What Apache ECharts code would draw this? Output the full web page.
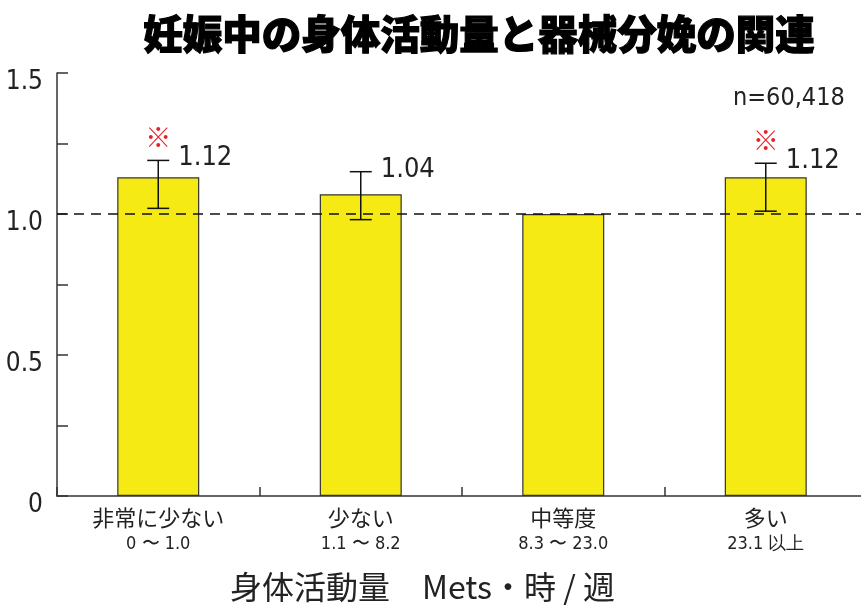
<!DOCTYPE html>
<html><head><meta charset="utf-8">
<script src="https://cdn.jsdelivr.net/npm/echarts@6/dist/echarts.min.js"></script>
<style>html,body{margin:0;padding:0;background:#fff}#c{width:861px;height:609px}</style>
</head><body><div id="c"></div>
<script>
const categories = ['非常に少ない', '少ない', '中等度', '多い'];
const ranges = ['0 〜 1.0', '1.1 〜 8.2', '8.3 〜 23.0', '23.1 以上'];
const values = [1.13, 1.07, 1.0, 1.13];
const errLow = [1.02, 0.98, null, 1.01];
const errHigh = [1.19, 1.15, null, 1.18];
const valueLabels = ['1.12', '1.04', '', '1.12'];
const significant = [true, false, false, true];
const yTicks = [0, 0.5, 1.0, 1.5];

const numFont = '"DejaVu Sans Condensed", "Liberation Sans Narrow", "Noto Sans", sans-serif';
const jpFont = '"Noto Sans CJK JP", sans-serif';

const chart = echarts.init(document.getElementById('c'));
chart.setOption({
  animation: false,
  backgroundColor: '#fff',
  title: {
    text: '妊娠中の身体活動量と器械分娩の関連',
    left: 474, top: 9, textAlign: 'center',
    textStyle: { fontFamily: jpFont, fontWeight: 900, fontSize: 39.5, color: '#000',
      textBorderColor: '#000', textBorderWidth: 1.2 }
  },
  grid: { left: 57, width: 810, top: 73, height: 423, outerBoundsMode: 'none', containLabel: false },
  xAxis: {
    type: 'category', data: categories, boundaryGap: true,
    axisLine: { lineStyle: { color: '#333', width: 1.5 } },
    axisTick: { show: true, inside: true, length: 9, alignWithLabel: false, lineStyle: { color: '#333', width: 1.5 } },
    axisLabel: {
      margin: 8, interval: 0,
      formatter: (v, i) => '{a|' + v + '}\n{b|' + ranges[i] + '}',
      rich: {
        a: { fontFamily: jpFont, fontSize: 22, color: '#222', lineHeight: 28 },
        b: { fontFamily: numFont, fontSize: 18, color: '#222', lineHeight: 24 }
      }
    }
  },
  yAxis: {
    type: 'value', min: 0, max: 1.5, interval: 0.25,
    splitLine: { show: false },
    axisLine: { show: true, lineStyle: { color: '#333', width: 1.5 } },
    axisTick: { show: true, inside: true, length: 11, lineStyle: { color: '#333', width: 1.5 } },
    axisLabel: {
      margin: 14,
      formatter: v => {
        const t = yTicks.find(x => Math.abs(x - v) < 1e-6);
        if (t === undefined) return '';
        return '{v|' + (t === 0 ? '0' : t.toFixed(1)) + '}';
      },
      rich: { v: { fontFamily: numFont, fontSize: 26, color: '#222', padding: [18, 0, 0, 0] } }
    }
  },
  series: [
    {
      type: 'bar', data: values, barWidth: 82,
      itemStyle: { color: '#f5ea14', borderColor: '#333', borderWidth: 1.2 },
      markLine: {
        silent: true, symbol: 'none', label: { show: false },
        lineStyle: { color: '#111', type: [10, 7], width: 1.5 },
        data: [{ yAxis: 1.0 }]
      },
      z: 2
    },
    {
      type: 'custom', z: 5,
      data: categories.map((c, i) => [i, errLow[i], errHigh[i]]),
      renderItem: (params, api) => {
        const i = api.value(0);
        if (errHigh[i] == null) return null;
        const hi = api.coord([i, errHigh[i]]);
        const lo = api.coord([i, errLow[i]]);
        const cap = 11;
        const st = { stroke: '#111', lineWidth: 1.5 };
        const children = [
          { type: 'line', shape: { x1: hi[0], y1: hi[1], x2: lo[0], y2: lo[1] }, style: st },
          { type: 'line', shape: { x1: hi[0] - cap, y1: hi[1], x2: hi[0] + cap, y2: hi[1] }, style: st },
          { type: 'line', shape: { x1: lo[0] - cap, y1: lo[1], x2: lo[0] + cap, y2: lo[1] }, style: st },
          { type: 'text', x: hi[0] + 20, y: hi[1] - 2,
            style: { text: valueLabels[i], fontFamily: numFont, fontSize: 27, fill: '#222', verticalAlign: 'middle', align: 'left' } }
        ];
        if (significant[i]) {
          children.push({ type: 'text', x: hi[0], y: hi[1] - 23,
            style: { text: '※', fontFamily: jpFont, fontSize: 26, fill: '#e8202a', verticalAlign: 'middle', align: 'center' } });
        }
        return { type: 'group', children };
      }
    }
  ],
  graphic: [
    { type: 'text', left: 733, top: 86,
      style: { text: 'n=60,418', fontFamily: numFont, fontSize: 25, fill: '#222' } },
    { type: 'text', left: 230, top: 571,
      style: { text: '身体活動量　Mets・時 / 週', fontFamily: jpFont, fontSize: 32, fill: '#222' } }
  ]
});
</script>
</body></html>
